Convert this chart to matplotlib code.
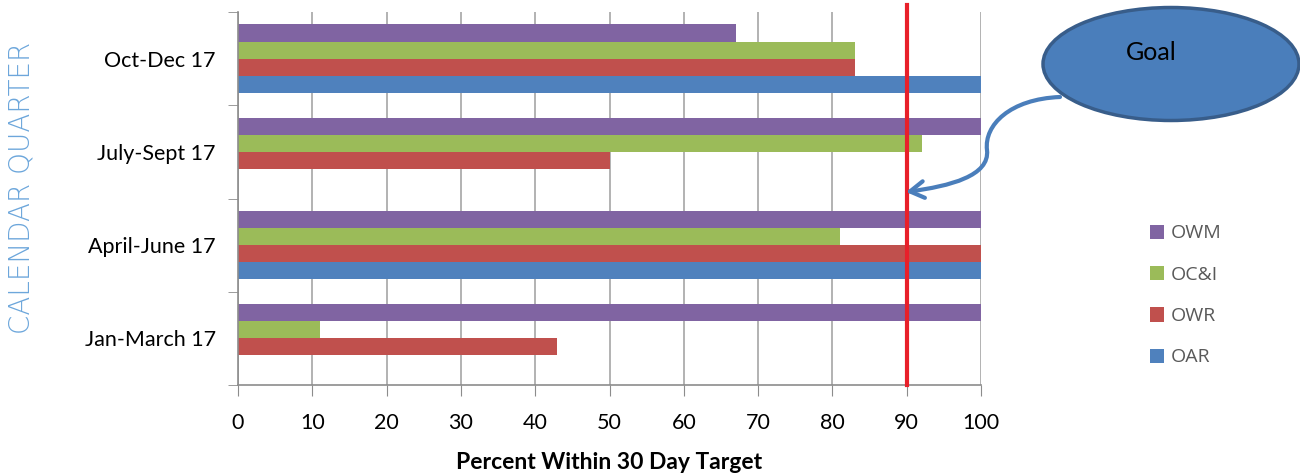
import matplotlib.pyplot as plt
import numpy as np
from matplotlib.patches import Ellipse, FancyArrowPatch
from matplotlib.path import Path

# Datos del grafico
quarters = ['Jan-March 17', 'April-June 17', 'July-Sept 17', 'Oct-Dec 17']
series = ['OAR', 'OWR', 'OC&I', 'OWM']
oar = [np.nan, 100, np.nan, 100]
owr = [43, 100, 50, 83]
oci = [11, 81, 92, 83]
owm = [100, 100, 100, 67]
goal = 90
colors = ['#4F81BD', '#C0504D', '#9BBB59', '#8064A2']

plt.rcParams['font.family'] = ['Lato', 'DejaVu Sans']

W, H = 1300, 476
fig = plt.figure(figsize=(13, 4.76), dpi=100)
ax = fig.add_axes([238 / W, 1 - 385 / H, (981 - 238) / W, (385 - 12) / H])


def fx(px):
    return px / W


def fy(py):
    return 1 - py / H


y = np.arange(len(quarters))
h = 0.183
for i, (name, vals) in enumerate(zip(series, [oar, owr, oci, owm])):
    ax.barh(y + (i - 1.5) * h, vals, height=h, color=colors[i], label=name, zorder=2)

ax.set_xlim(0, 100)
ax.set_ylim(-0.5, 3.5)
ax.set_xticks(np.arange(0, 101, 10))
ax.set_yticks(y)
ax.set_yticklabels(quarters, fontsize=15.5)
ax.set_yticks(np.arange(-0.5, 3.6, 1), minor=True)
ax.tick_params(axis='y', which='major', length=0, pad=16)
ax.tick_params(axis='y', which='minor', length=7, color='#8C8C8C', direction='out')
ax.tick_params(axis='x', length=8, color='#8C8C8C', labelsize=15.5, pad=12)
ax.grid(True, axis='x', color='#A6A6A6', linewidth=1.2, zorder=0)
for s in ['top', 'right']:
    ax.spines[s].set_visible(False)
for s in ['left', 'bottom']:
    ax.spines[s].set_color('#8C8C8C')
    ax.spines[s].set_linewidth(1.2)
ax.set_xlabel('Percent Within 30 Day Target', fontsize=16.5, fontweight='bold', labelpad=14)

# Linea de meta
ax.axvline(goal, ymin=0, ymax=1.02, color='#E8202A', linewidth=3, zorder=3, clip_on=False)

# Etiqueta del eje Y
fig.text(fx(22), fy(188), 'CALENDAR QUARTER', rotation=90, ha='center', va='center',
         fontsize=20, color='#6CA6DB', family=['DejaVu Sans'], fontweight='light')

# Globo "Goal"
ell = Ellipse((fx(1171), fy(64)), fx(256), 113 / H, transform=fig.transFigure,
              facecolor='#4A7EBB', edgecolor='#385D8A', linewidth=2.5)
fig.patches.append(ell)
fig.text(fx(1151), fy(53), 'Goal', ha='center', va='center', fontsize=18)

pts = [(1060, 97), (1010, 99), (984, 125), (987, 150), (990, 176), (950, 186), (906, 192)]
codes = [Path.MOVETO] + [Path.CURVE4] * 6
arrow_path = Path([(fx(a), fy(b)) for a, b in pts], codes)
arr = FancyArrowPatch(path=arrow_path, arrowstyle='->,head_length=10,head_width=6',
                      color='#4A7EBB', linewidth=3, transform=fig.transFigure)
fig.patches.append(arr)

# Leyenda
handles, labels = ax.get_legend_handles_labels()
fig.legend(handles[::-1], labels[::-1], loc='upper left', bbox_to_anchor=(fx(1132), fy(207)),
           frameon=False, labelspacing=1.2, handlelength=0.75, handleheight=0.75,
           handletextpad=0.35, labelcolor='#595959',
           prop={'family': ['Open Sans', 'DejaVu Sans'], 'size': 14})

plt.savefig('out.png', dpi=100)
plt.close()
